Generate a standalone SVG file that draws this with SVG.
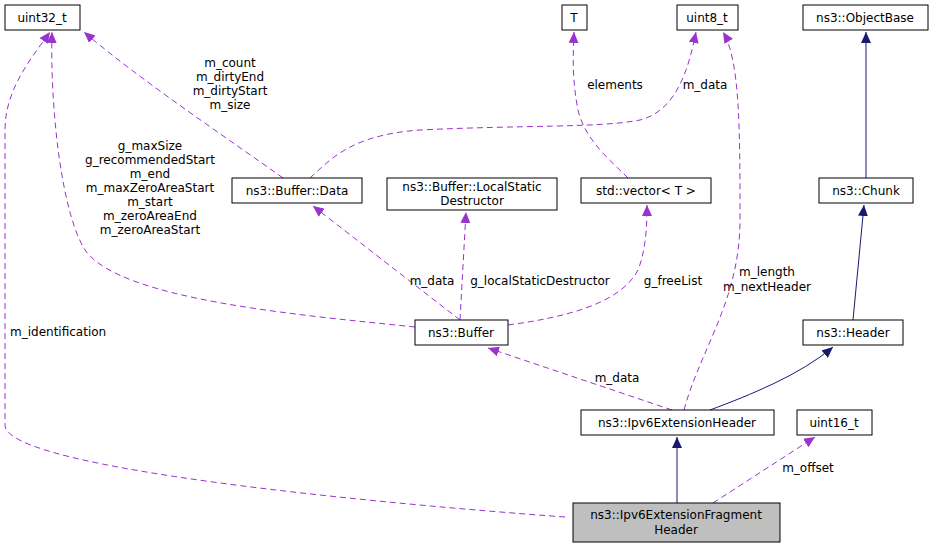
<svg xmlns="http://www.w3.org/2000/svg" width="936" height="549" viewBox="0 0 936 549">
<style>
text{font-family:"DejaVu Sans","Liberation Sans",sans-serif;font-size:12px;fill:#000}
.n rect{fill:#fff;stroke:#000;stroke-width:1}
.n text{text-anchor:middle}
.d{fill:none;stroke:#9a32cd;stroke-dasharray:6,4;stroke-width:1}
.s{fill:none;stroke:#191970;stroke-width:1}
.l{text-anchor:middle}
</style>
<defs>
<marker id="ap" markerWidth="12" markerHeight="10" refX="11" refY="5" orient="auto" markerUnits="userSpaceOnUse"><path d="M0,0 L11,5 L0,10 z" fill="#9a32cd"/></marker>
<marker id="an" markerWidth="12" markerHeight="10" refX="11" refY="5" orient="auto" markerUnits="userSpaceOnUse"><path d="M0,0 L11,5 L0,10 z" fill="#191970"/></marker>
</defs>
<g id="connectors">
<path class="d" marker-end="url(#ap)" d="M565,517 C400,505 5,470 5,425 L5,130 C5,90 30,60 50,32"/>
<path class="d" marker-end="url(#ap)" d="M415,327 C300,315 120,300 85,250 C60,210 50,100 52,32"/>
<path class="d" marker-end="url(#ap)" d="M283,178 C230,140 140,80 84,32"/>
<path class="d" marker-end="url(#ap)" d="M310,178 C330,160 350,135 420,130 C520,125 600,128 640,120 C680,110 690,60 696,32"/>
<path class="d" marker-end="url(#ap)" d="M628,178 C610,160 585,140 578,110 C572,80 573,55 574,32"/>
<path class="d" marker-end="url(#ap)" d="M460,320 L313,206"/>
<path class="d" marker-end="url(#ap)" d="M460,320 L466,212"/>
<path class="d" marker-end="url(#ap)" d="M508,325 C560,318 620,305 638,270 C646,250 647,225 647,205"/>
<path class="d" marker-end="url(#ap)" d="M672,410 L488,348"/>
<path class="d" marker-end="url(#ap)" d="M684,410 C700,350 740,300 740,220 C740,130 740,60 723,32"/>
<path class="d" marker-end="url(#ap)" d="M713,503 L815,437"/>
<path class="s" marker-end="url(#an)" d="M710,410 C750,395 800,375 833,347"/>
<path class="s" marker-end="url(#an)" d="M677,503 L677,437"/>
<path class="s" marker-end="url(#an)" d="M853,320 L864,205"/>
<path class="s" marker-end="url(#an)" d="M866,178 L866,32"/>
<text x="10" y="336">m_identification</text>
<text class="l" x="150" y="150">g_maxSize</text>
<text class="l" x="150" y="164">g_recommendedStart</text>
<text class="l" x="150" y="178">m_end</text>
<text class="l" x="150" y="192">m_maxZeroAreaStart</text>
<text class="l" x="150" y="206">m_start</text>
<text class="l" x="150" y="220">m_zeroAreaEnd</text>
<text class="l" x="150" y="234">m_zeroAreaStart</text>
<text class="l" x="230" y="67">m_count</text>
<text class="l" x="230" y="81">m_dirtyEnd</text>
<text class="l" x="230" y="95">m_dirtyStart</text>
<text class="l" x="230" y="109">m_size</text>
<text class="l" x="705" y="89">m_data</text>
<text class="l" x="615" y="89">elements</text>
<text class="l" x="432" y="285">m_data</text>
<text class="l" x="540" y="285">g_localStaticDestructor</text>
<text class="l" x="673" y="285">g_freeList</text>
<text class="l" x="617" y="382">m_data</text>
<text class="l" x="767" y="276">m_length</text>
<text class="l" x="767" y="291">m_nextHeader</text>
<text class="l" x="808" y="472">m_offset</text>
</g>
<g id="uint32_t" class="n"><rect x="5" y="5" width="75" height="25"/><text x="42" y="22">uint32_t</text></g>
<g id="T" class="n"><rect x="562" y="5" width="25" height="25"/><text x="574" y="22">T</text></g>
<g id="uint8_t" class="n"><rect x="677" y="5" width="61" height="25"/><text x="707" y="22">uint8_t</text></g>
<g id="ObjectBase" class="n"><rect x="803" y="5" width="125" height="25"/><text x="865" y="22">ns3::ObjectBase</text></g>
<g id="BufferData" class="n"><rect x="232" y="178" width="130" height="25"/><text x="297" y="195">ns3::Buffer::Data</text></g>
<g id="LocalStatic" class="n"><rect x="387" y="178" width="170" height="32"/><text x="472" y="191">ns3::Buffer::LocalStatic</text><text x="472" y="205">Destructor</text></g>
<g id="vector" class="n"><rect x="581" y="178" width="130" height="25"/><text x="646" y="195">std::vector&lt; T &gt;</text></g>
<g id="Chunk" class="n"><rect x="819" y="178" width="94" height="25"/><text x="866" y="195">ns3::Chunk</text></g>
<g id="Buffer" class="n"><rect x="415" y="320" width="93" height="25"/><text x="461" y="337">ns3::Buffer</text></g>
<g id="Header" class="n"><rect x="803" y="320" width="100" height="25"/><text x="853" y="337">ns3::Header</text></g>
<g id="Ipv6ExtensionHeader" class="n"><rect x="581" y="410" width="193" height="25"/><text x="677" y="427">ns3::Ipv6ExtensionHeader</text></g>
<g id="uint16_t" class="n"><rect x="797" y="410" width="75" height="25"/><text x="834" y="427">uint16_t</text></g>
<g id="Fragment" class="n"><rect x="573" y="503" width="207" height="39" style="fill:#bfbfbf"/><text x="676" y="519">ns3::Ipv6ExtensionFragment</text><text x="676" y="534">Header</text></g>
</svg>
